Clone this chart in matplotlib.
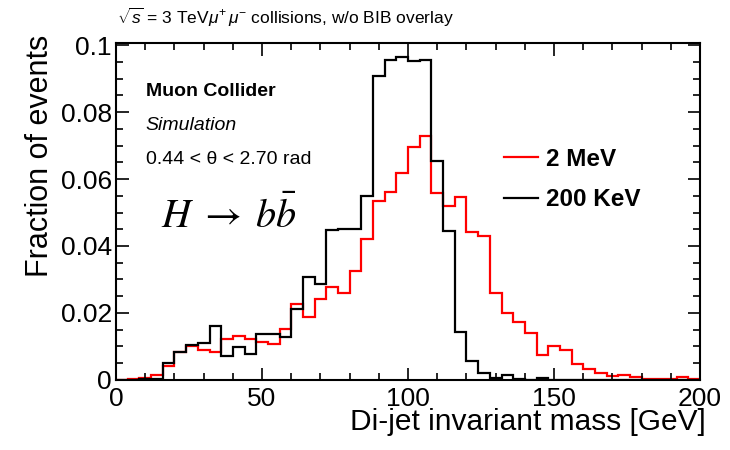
import matplotlib
matplotlib.use("Agg")
import matplotlib.pyplot as plt
from matplotlib.ticker import MultipleLocator
import numpy as np

plt.rcParams['font.family'] = ['Liberation Sans', 'DejaVu Sans']
plt.rcParams['mathtext.fontset'] = 'custom'
plt.rcParams['mathtext.rm'] = 'Liberation Sans'
plt.rcParams['mathtext.it'] = 'Liberation Sans:italic'

# bin edges of the di-jet mass histogram [GeV]
edges = np.arange(0, 204, 4)

# 2 MeV threshold (red)
frac_2mev = [0.0, 0.0003, 0.0005, 0.0015, 0.0042, 0.0082, 0.0102, 0.0089, 0.0082, 0.0122,
             0.0132, 0.0122, 0.0112, 0.0106, 0.0152, 0.0226, 0.0189, 0.0242, 0.0277, 0.0259,
             0.0326, 0.0420, 0.0534, 0.0562, 0.0619, 0.0695, 0.0728, 0.0559, 0.0520, 0.0547,
             0.0441, 0.0431, 0.0259, 0.0201, 0.0172, 0.0139, 0.0073, 0.0100, 0.0090, 0.0048,
             0.0032, 0.0020, 0.0010, 0.0013, 0.0008, 0.0003, 0.0003, 0.0002, 0.0008, 0.0002]

# 200 KeV threshold (black)
frac_200kev = [0.0, 0.0, 0.0002, 0.0002, 0.0051, 0.0082, 0.0104, 0.0109, 0.0161, 0.0072,
               0.0097, 0.0078, 0.0137, 0.0137, 0.0127, 0.0211, 0.0308, 0.0286, 0.0448, 0.0450,
               0.0450, 0.0550, 0.0907, 0.0957, 0.0965, 0.0953, 0.0955, 0.0654, 0.0445, 0.0144,
               0.0056, 0.0020, 0.0005, 0.0015, 0.0002, 0.0, 0.0005, 0.0, 0.0, 0.0,
               0.0, 0.0, 0.0, 0.0, 0.0, 0.0, 0.0, 0.0, 0.0, 0.0]

fig = plt.figure(figsize=(7.3, 4.5), dpi=100)
ax = fig.add_axes([0.159, 0.156, 0.800, 0.748])

ax.stairs(frac_2mev, edges, color='#ff0000', linewidth=1.6, label='2 MeV')
ax.stairs(frac_200kev, edges, color='black', linewidth=1.6, label='200 KeV')

ax.set_xlim(0, 200)
ax.set_ylim(0, 0.1006)
ax.xaxis.set_major_locator(MultipleLocator(50))
ax.xaxis.set_minor_locator(MultipleLocator(10))
ax.yaxis.set_major_locator(MultipleLocator(0.02))
ax.yaxis.set_minor_locator(MultipleLocator(0.005))
ax.yaxis.set_major_formatter(plt.FuncFormatter(lambda v, p: '0' if v == 0 else f'{v:g}'))
ax.tick_params(which='both', direction='in', top=True, right=True, labelsize=19, width=1.2)
ax.tick_params(which='major', length=9)
ax.tick_params(which='minor', length=5)
ax.tick_params(axis='x', pad=5)
ax.tick_params(axis='y', pad=3)
for s in ax.spines.values():
    s.set_linewidth(1.5)

ax.set_xlabel('Di-jet invariant mass [GeV]', fontsize=21.5, ha='right', va='top')
ax.xaxis.set_label_coords(1.01, -0.085)
# y title placed on the figure, top aligned like ROOT
fig.text(40 / 730, 1 - 35 / 450, 'Fraction of events', fontsize=22, rotation=90,
         ha='center', va='top')

fig.text(0.160, 0.962, r'$\sqrt{s}$ = 3 TeV$\mu^{+}\,\mu^{-}$ collisions, w/o BIB overlay',
         fontsize=12.5, ha='left', va='center')

ax.text(0.051, 0.856, 'Muon Collider', transform=ax.transAxes, fontsize=14, fontweight='bold', va='center')
ax.text(0.051, 0.756, 'Simulation', transform=ax.transAxes, fontsize=14, style='italic', va='center')
ax.text(0.051, 0.655, '0.44 < θ < 2.70 rad', transform=ax.transAxes, fontsize=14, va='center')
ax.text(0.077, 0.487, r'$H\;\rightarrow\;b\bar{b}$', transform=ax.transAxes, fontsize=29,
        va='center', math_fontfamily='stix')

ax.legend(loc='upper left', bbox_to_anchor=(0.626, 0.755), frameon=False,
          prop={'weight': 'bold', 'size': 17.5}, handlelength=1.4, handletextpad=0.35,
          labelspacing=0.72)

fig.savefig('out.png', dpi=100)
